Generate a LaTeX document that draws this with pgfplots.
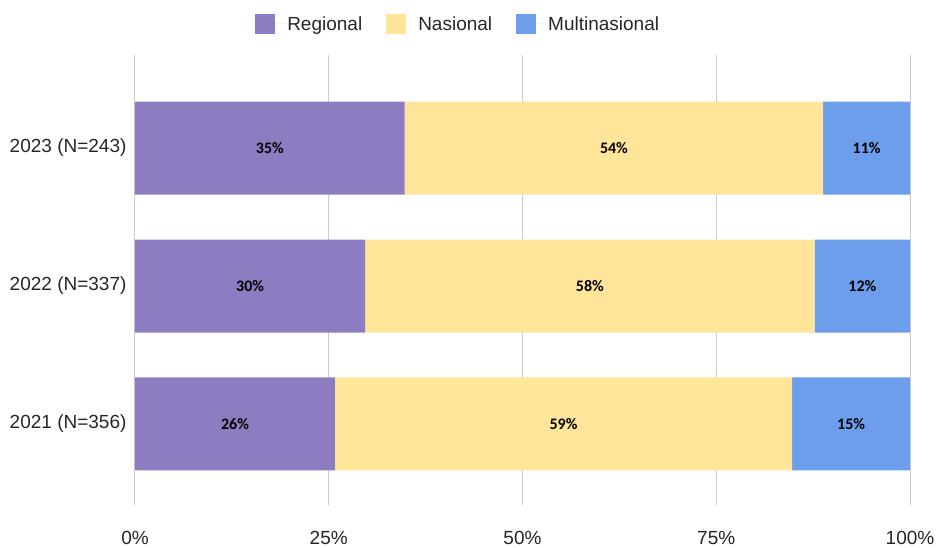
\documentclass[border=0pt]{standalone}
\usepackage{pgfplots}
\usepackage{pgfplotstable}
\pgfplotsset{compat=1.18}
\usepackage{fontspec}
\setmainfont{Liberation Sans}
\newfontfamily\carlito{Carlito}

\definecolor{cReg}{HTML}{8E7CC3}
\definecolor{cNas}{HTML}{FFE599}
\definecolor{cMul}{HTML}{6D9EEB}
\definecolor{cGrid}{HTML}{CCCCCC}
\definecolor{cZero}{HTML}{333333}

% shares per year, 0 = 2021 ... 2 = 2023
\pgfplotstableread{
y reg nas mul
0 25.8 59.0 15.2
1 29.7 58.0 12.3
2 34.8 54.0 11.2
}\shares

\begin{document}
\begin{tikzpicture}
\useasboundingbox (0,0) rectangle (938pt,547pt);
\begin{axis}[
    at={(135pt,42pt)}, anchor=south west,
    scale only axis, width=775pt, height=450pt,
    xbar stacked, bar width=93pt,
    xmin=0, xmax=100,
    ymin=-0.587, ymax=2.674,
    ytick={0,1,2},
    yticklabels={2021 (N=356),2022 (N=337),2023 (N=243)},
    xtick={0,25,50,75,100},
    xticklabel={\pgfmathprintnumber{\tick}\%},
    /pgf/number format/assume math mode=true,
    tick label style={font=\fontsize{19}{22}\selectfont, text=black!85},
    xticklabel style={yshift=-23pt},
    yticklabel style={xshift=-5pt},
    major tick length=0pt,
    axis line style={draw=none},
    xmajorgrids=true,
    major grid style={cGrid, line width=1pt},
    extra x ticks={0},
    extra x tick labels={},
    extra x tick style={grid style={cZero, line width=1pt}},
    point meta=explicit,
    nodes near coords={\pgfmathprintnumber[fixed,precision=0,assume math mode=true]{\pgfplotspointmeta}\%},
    every node near coord/.append style={anchor=center,
        font=\carlito\bfseries\fontsize{16}{18}\selectfont, text=black},
    legend columns=3,
    legend style={at={(0.417,1.069)}, anchor=center, draw=none, fill=none,
        font=\fontsize{19}{22}\selectfont, text=black!85,
        /tikz/every even column/.append style={column sep=22pt}},
    legend image code/.code={\fill[#1] (0pt,-10pt) rectangle (20pt,10pt); \path (0pt,0pt) -- (30pt,0pt);},
]
\addplot[fill=cReg, draw=none] table[x=reg, y=y, meta=reg] {\shares};
\addplot[fill=cNas, draw=none] table[x=nas, y=y, meta=nas] {\shares};
\addplot[fill=cMul, draw=none] table[x=mul, y=y, meta=mul] {\shares};
\legend{Regional, Nasional, Multinasional}
\end{axis}
\end{tikzpicture}
\end{document}
